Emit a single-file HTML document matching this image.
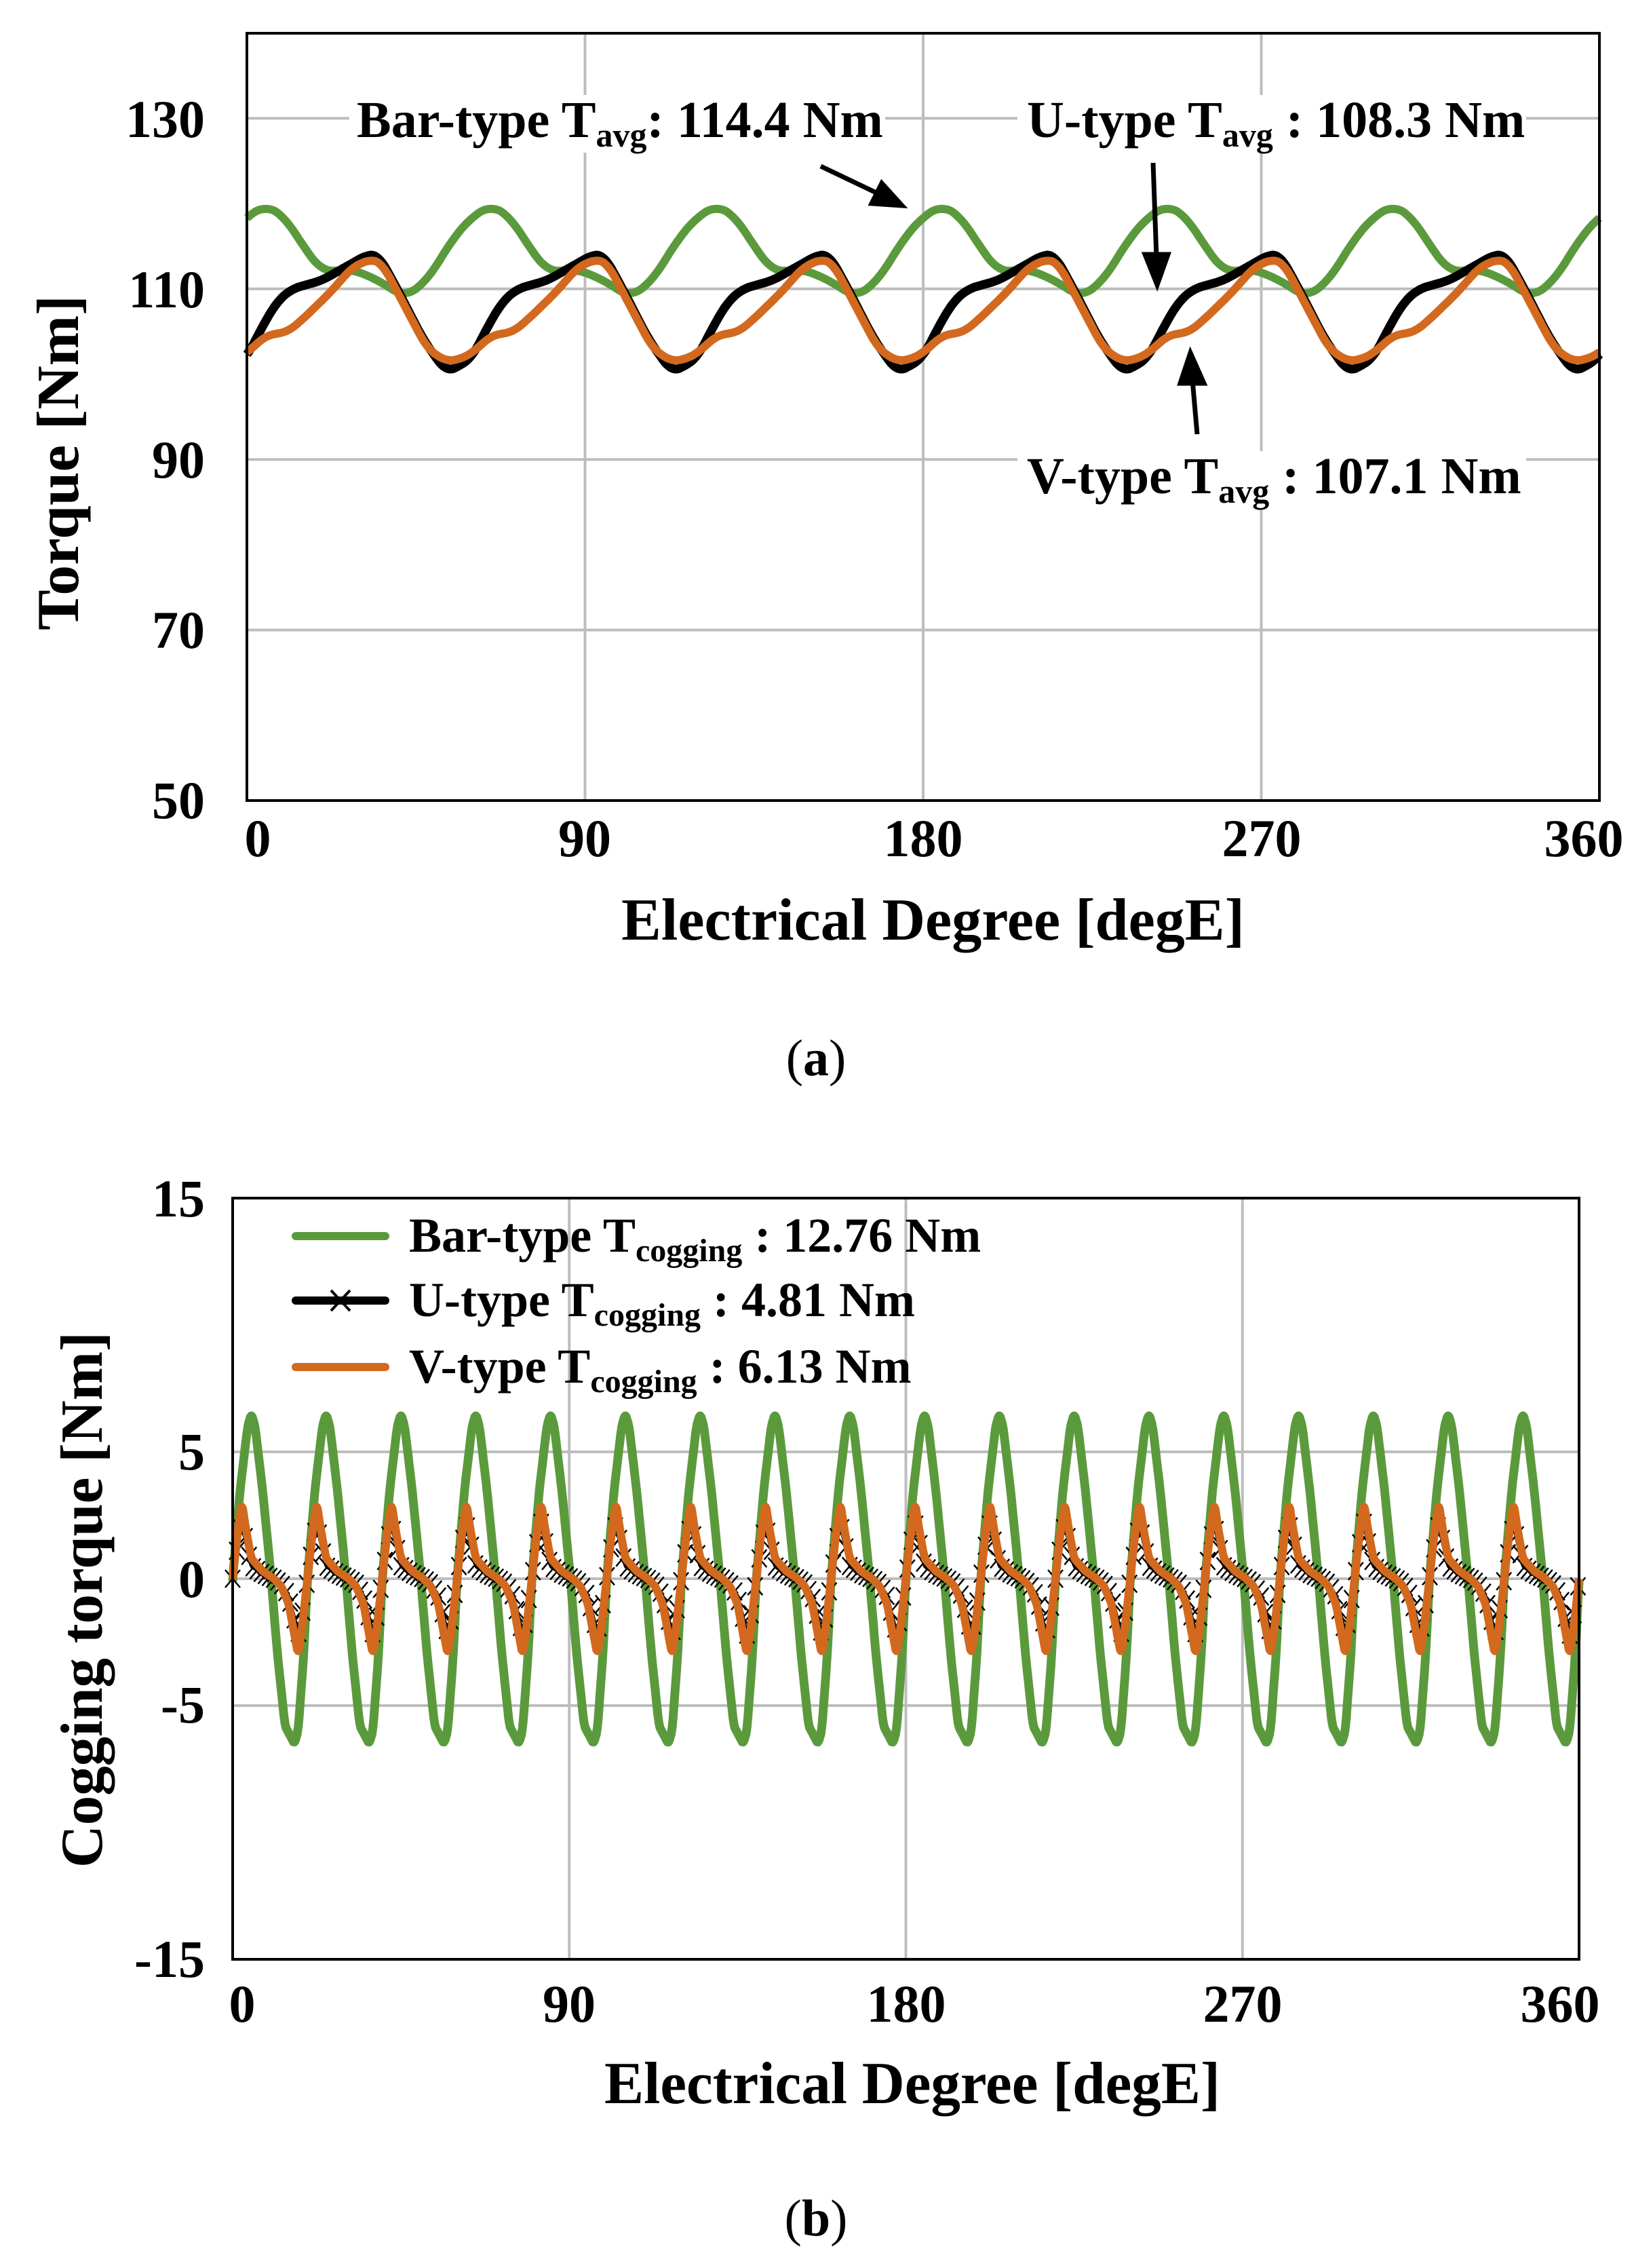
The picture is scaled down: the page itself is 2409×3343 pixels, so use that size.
<!DOCTYPE html>
<html><head><meta charset="utf-8"><style>html,body{margin:0;padding:0;background:#fff}svg{display:block}</style></head>
<body>
<svg id="s" width="2409" height="3343" viewBox="0 0 2409 3343" xmlns="http://www.w3.org/2000/svg" font-family="'Liberation Serif', serif">
<rect width="2409" height="3343" fill="#fff"/>
<g id="grid" stroke="#bdbdbd" stroke-width="4" fill="none"></g>
<g id="series"></g>
<rect x="364" y="49" width="1994" height="1131" fill="none" stroke="#000" stroke-width="4"/>
<rect x="515" y="140" width="790" height="85" fill="#fff"/>
<rect x="1500" y="140" width="750" height="85" fill="#fff"/>
<rect x="1500" y="665" width="750" height="85" fill="#fff"/>
<g font-weight="bold" font-size="76" fill="#000">
<text x="526" y="202">Bar-type T<tspan font-size="50" dy="14">avg</tspan><tspan dy="-14">: 114.4 Nm</tspan></text>
<text x="1514" y="202">U-type T<tspan font-size="50" dy="14">avg</tspan><tspan dy="-14"> : 108.3 Nm</tspan></text>
<text x="1514" y="727">V-type T<tspan font-size="50" dy="14">avg</tspan><tspan dy="-14"> : 107.1 Nm</tspan></text>
</g>
<g stroke="#000" stroke-width="7" fill="#000">
<line x1="1210" y1="245" x2="1300" y2="288"/><polygon points="1330,303 1285,300 1300,270"/>
<line x1="1700" y1="240" x2="1705" y2="380"/><polygon points="1706,420 1688,375 1722,375"/>
<line x1="1765" y1="640" x2="1758" y2="560"/><polygon points="1755,520 1740,565 1775,565"/>
</g>
<g font-weight="bold" font-size="78" text-anchor="end">
<text x="302" y="202">130</text><text x="302" y="453">110</text><text x="302" y="704">90</text><text x="302" y="955">70</text><text x="302" y="1206">50</text>
</g>
<g font-weight="bold" font-size="78" text-anchor="middle">
<text x="380" y="1262">0</text><text x="862" y="1262">90</text><text x="1361" y="1262">180</text><text x="1860" y="1262">270</text><text x="2335" y="1262">360</text>
</g>
<text x="916" y="1385" font-weight="bold" font-size="88" textLength="919" lengthAdjust="spacingAndGlyphs">Electrical Degree [degE]</text>
<text transform="translate(115,682) rotate(-90)" text-anchor="middle" font-weight="bold" font-size="88" textLength="494" lengthAdjust="spacingAndGlyphs">Torque [Nm]</text>
<text x="1203" y="1585" text-anchor="middle" font-size="76">(<tspan font-weight="bold">a</tspan>)</text>

<rect x="343" y="1766" width="1985" height="1122" fill="none" stroke="#000" stroke-width="4"/>
<g font-weight="bold" font-size="78" text-anchor="end">
<text x="302" y="1793">15</text><text x="302" y="2166">5</text><text x="302" y="2354">0</text><text x="302" y="2539">-5</text><text x="302" y="2914">-15</text>
</g>
<g font-weight="bold" font-size="78" text-anchor="middle">
<text x="357" y="2980">0</text><text x="839" y="2980">90</text><text x="1336" y="2980">180</text><text x="1832" y="2980">270</text><text x="2300" y="2980">360</text>
</g>
<text x="891" y="3100" font-weight="bold" font-size="88" textLength="908" lengthAdjust="spacingAndGlyphs">Electrical Degree [degE]</text>
<text transform="translate(150,2358) rotate(-90)" text-anchor="middle" font-weight="bold" font-size="88" textLength="790" lengthAdjust="spacingAndGlyphs">Cogging torque [Nm]</text>
<text x="1203" y="3295" text-anchor="middle" font-size="76">(<tspan font-weight="bold">b</tspan>)</text>
<g stroke-width="12" stroke-linecap="round">
<line x1="436" y1="1822" x2="568" y2="1822" stroke="#5b9a3c"/>
<line x1="436" y1="1917" x2="568" y2="1917" stroke="#000"/>
<line x1="436" y1="2015" x2="568" y2="2015" stroke="#d2691e"/>
</g>
<g stroke="#000" stroke-width="4"><line x1="488" y1="1902" x2="516" y2="1932"/><line x1="488" y1="1932" x2="516" y2="1902"/></g>
<g font-weight="bold" font-size="72">
<text x="603" y="1845">Bar-type T<tspan font-size="48" dy="14">cogging</tspan><tspan dy="-14"> : 12.76 Nm</tspan></text>
<text x="603" y="1940">U-type T<tspan font-size="48" dy="14">cogging</tspan><tspan dy="-14"> : 4.81 Nm</tspan></text>
<text x="603" y="2038">V-type T<tspan font-size="48" dy="14">cogging</tspan><tspan dy="-14"> : 6.13 Nm</tspan></text>
</g>
</svg>
<script>
(function(){
var NS="http://www.w3.org/2000/svg";
var grid=document.getElementById('grid'),ser=document.getElementById('series');
function ln(g,x1,y1,x2,y2){var l=document.createElementNS(NS,'line');l.setAttribute('x1',x1);l.setAttribute('y1',y1);l.setAttribute('x2',x2);l.setAttribute('y2',y2);g.appendChild(l);}
function TX(d){return 364+d*(2358-364)/360;} function TY(v){return 1180-(v-50)*12.57;}
[70,90,110,130].forEach(function(v){ln(grid,364,TY(v),2358,TY(v));});
[90,180,270].forEach(function(d){ln(grid,TX(d),49,TX(d),1180);});
function BX(d){return 343+d*(2328-343)/360;} function BY(v){return 2327-v*37.4;}
[5,0,-5].forEach(function(v){ln(grid,343,BY(v),2328,BY(v));});
[90,180,270].forEach(function(d){ln(grid,BX(d),1766,BX(d),2888);});
function lin(pts,p){for(var i=0;i<pts.length-1;i++){if(p>=pts[i][0]&&p<=pts[i+1][0]){var t=(p-pts[i][0])/(pts[i+1][0]-pts[i][0]);return pts[i][1]+t*(pts[i+1][1]-pts[i][1]);}}return pts[pts.length-1][1];}
function vals(pts,per,step,win){var n=Math.round(360/step),out=[];for(var i=0;i<=n;i++){var s=0,c=0;for(var k=-win;k<=win;k++){var x=(i+k)*step;var p=((x%per)+per)%per;s+=lin(pts,p);c++;}out.push(s/c);}return out;}
function path(pts,per,X,Y,color,w,step,win){var v=vals(pts,per,step,win),d='';for(var i=0;i<v.length;i++){d+=(i?'L':'M')+X(i*step).toFixed(1)+','+Y(v[i]).toFixed(1);}var e=document.createElementNS(NS,'path');e.setAttribute('d',d);e.setAttribute('fill','none');e.setAttribute('stroke',color);e.setAttribute('stroke-width',w);e.setAttribute('stroke-linejoin','round');ser.appendChild(e);return v;}
var G=[[0,118.5],[5,119.8],[10,118.5],[15,115],[20,112],[28,112.3],[35,111],[42,109],[48,111],[55,116],[60,118.5]];
var K=[[0,102],[4,105.5],[8,108.5],[12,110],[20,111],[26,112.5],[32,114],[35,114],[40,110],[47,104],[53,100.3],[56,100.8],[60,102]];
var O=[[0,102.5],[5,104.5],[11,105],[15,106.5],[22,109.5],[28,112.5],[33,113.5],[36,113],[42,108],[48,103],[53,101.5],[57,101.8],[60,102.5]];
path(G,60,TX,TY,'#5b9a3c',12,0.5,6);
path(K,60,TX,TY,'#000',13,0.5,4);
path(O,60,TX,TY,'#d2691e',12,0.5,4);
var g2=[[0,0],[2,3.5],[4,6],[5,6.5],[6,6],[8,3.5],[10,0.5],[12,-3],[14,-5.8],[16.5,-6.5],[17.5,-6],[19,-3],[20,0]];
var k2=[[0,0],[1.5,1.5],[2.5,2.2],[3.5,1.5],[5,0.5],[8,0.2],[11,0],[13,-0.2],[15,-0.7],[16.5,-1.6],[17.5,-2.2],[18.5,-1.5],[20,0]];
var o2=[[0,0],[1.5,2],[2.5,3],[3.5,2],[5,0.8],[8,0.3],[11,0],[13,-0.3],[15,-1],[16.5,-2.2],[17.5,-3],[18.5,-2],[20,0]];
path(g2,20,BX,BY,'#5b9a3c',13,0.25,1);
path(k2,20,BX,BY,'#000',6,0.25,1);
var mk=document.createElementNS(NS,'path'),md='';
for(var x=0;x<=360.0001;x+=1.1){var v=lin(k2,x%20),cx=BX(x),cy=BY(v);md+='M'+(cx-11)+','+(cy-13)+'L'+(cx+11)+','+(cy+13)+'M'+(cx-11)+','+(cy+13)+'L'+(cx+11)+','+(cy-13);}
mk.setAttribute('d',md);mk.setAttribute('stroke','#000');mk.setAttribute('stroke-width','2.5');ser.appendChild(mk);
path(o2,20,BX,BY,'#d2691e',12,0.25,1);
})();
</script>
</body></html>
